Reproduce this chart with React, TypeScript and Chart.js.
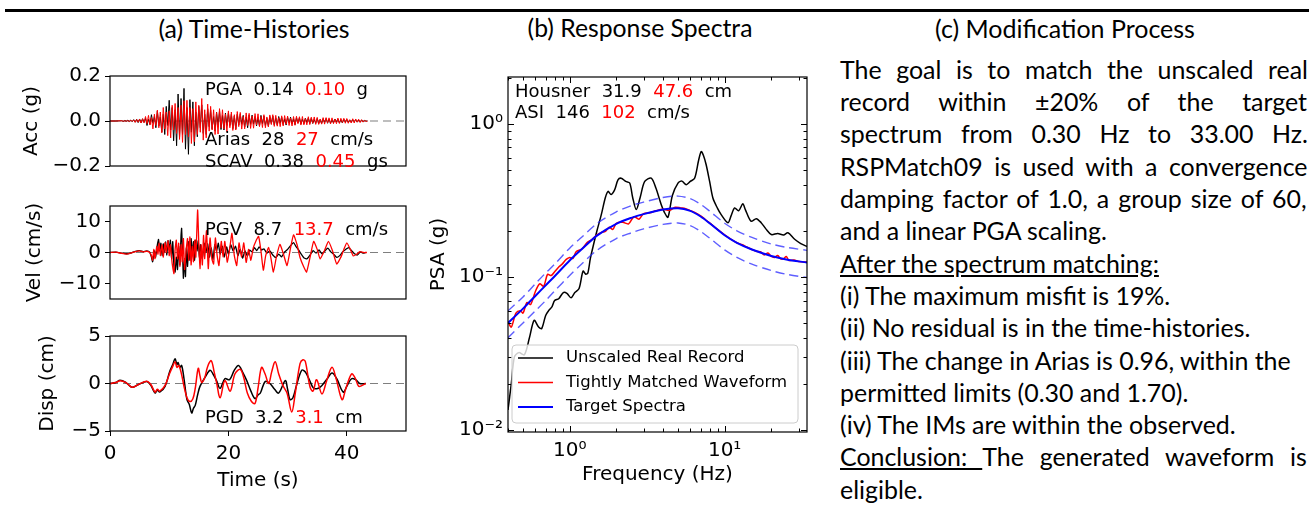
import React, { useEffect, useMemo, useRef } from 'react';
import { Chart, registerables } from 'chart.js';

Chart.register(...registerables);

// ---------------- Data: (a) time histories ----------------
const ACC_TIME = [0, 1,
  2, 2.25, 2.5, 2.75, 3, 3.25, 3.5, 3.75, 4, 4.25, 4.5, 4.75, 5, 5.25, 5.5, 5.75, 6, 6.25, 6.5, 6.75,
  7, 7.25, 7.5, 7.75, 8, 8.25, 8.5, 8.75, 9, 9.25, 9.5, 9.75, 10, 10.25, 10.5, 10.75, 11, 11.25, 11.5, 11.75,
  12, 12.25, 12.5, 12.75, 13, 13.25, 13.5, 13.75, 14, 14.25, 14.5, 14.75, 15, 15.25, 15.5, 15.75, 16, 16.25, 16.5, 16.75,
  17, 17.25, 17.5, 17.75, 18, 18.25, 18.5, 18.75, 19, 19.25, 19.5, 19.75, 20, 20.25, 20.5, 20.75, 21, 21.25, 21.5, 21.75,
  22, 22.25, 22.5, 22.75, 23, 23.25, 23.5, 23.75, 24, 24.25, 24.5, 24.75, 25, 25.25, 25.5, 25.75, 26, 26.25, 26.5, 26.75,
  27, 27.25, 27.5, 27.75, 28, 28.25, 28.5, 28.75, 29, 29.25, 29.5, 29.75, 30, 30.25, 30.5, 30.75, 31, 31.25, 31.5, 31.75,
  32, 32.25, 32.5, 32.75, 33, 33.25, 33.5, 33.75, 34, 34.25, 34.5, 34.75, 35, 35.25, 35.5, 35.75, 36, 36.25, 36.5, 36.75,
  37, 37.25, 37.5, 37.75, 38, 38.25, 38.5, 38.75, 39, 39.25, 39.5, 39.75, 40, 40.25, 40.5, 40.75, 41, 41.25, 41.5, 41.75,
  42, 42.25, 42.5, 42.75, 43, 43.25, 43.5];

const ACC_REAL = [0, 0,
  0.001, -0.002, 0.002, -0.001, 0.003, -0.002, 0.004, -0.003, 0.006, -0.005, 0.008, -0.007, 0.009, -0.008, 0.010, -0.006,
  0.012, -0.020, 0.008, -0.015, 0.028, -0.010, 0.020, -0.030, 0.045, -0.022, 0.018, -0.050, 0.030, -0.060, 0.065, -0.020,
  0.092, -0.040, 0.060, -0.088, 0.050, -0.110, 0.120, -0.070, 0.100, -0.060, 0.145, -0.125, 0.060, -0.148, 0.095, -0.050,
  0.085, -0.110, 0.040, -0.070, 0.065, -0.030, 0.072, -0.055, 0.030, -0.060, 0.055, -0.025, 0.048, -0.035, 0.020, -0.045,
  0.040, -0.020, 0.045, -0.038, 0.025, -0.040, 0.035, -0.020, 0.036, -0.020, 0.030, -0.034, 0.022, -0.035, 0.030, -0.018,
  0.030, -0.015, 0.025, -0.027, 0.018, -0.030, 0.026, -0.015, 0.026, -0.014, 0.020, -0.022, 0.015, -0.022, 0.025, -0.012,
  0.022, -0.020, 0.012, -0.023, 0.020, -0.012, 0.022, -0.018, 0.014, -0.018, 0.020, -0.010, 0.018, -0.016, 0.010, -0.018,
  0.016, -0.009, 0.017, -0.014, 0.010, -0.016, 0.014, -0.008, 0.014, -0.013, 0.008, -0.012, 0.013, -0.007, 0.013, -0.011,
  0.012, -0.011, 0.007, -0.010, 0.011, -0.012, 0.006, -0.011, 0.010, -0.006, 0.011, -0.010, 0.009, -0.010, 0.005, -0.008,
  0.009, -0.005, 0.009, -0.009, 0.006, -0.009, 0.008, -0.004, 0.007, -0.006, 0.004, -0.006, 0.006, -0.003, 0.006, -0.005,
  0.004, -0.004, 0.003, -0.002, 0.001, 0, 0];

const ACC_MATCH = [0, 0,
  0.001, -0.001, 0.001, -0.001, 0.002, -0.002, 0.003, -0.002, 0.005, -0.006, 0.007, -0.005, 0.008, -0.009, 0.010, -0.008,
  0.020, -0.012, 0.025, -0.018, 0.015, -0.035, 0.030, -0.020, 0.048, -0.030, 0.040, -0.052, 0.060, -0.035, 0.040, -0.065,
  0.045, -0.075, 0.070, -0.040, 0.078, -0.055, 0.060, -0.082, 0.070, -0.095, 0.090, -0.060, 0.092, -0.070, 0.060, -0.100,
  0.055, -0.092, 0.085, -0.060, 0.070, -0.050, 0.100, -0.085, 0.050, -0.075, 0.075, -0.045, 0.065, -0.040, 0.050, -0.060,
  0.038, -0.058, 0.055, -0.030, 0.050, -0.035, 0.030, -0.048, 0.045, -0.030, 0.040, -0.042, 0.028, -0.040, 0.042, -0.025,
  0.038, -0.036, 0.020, -0.035, 0.036, -0.020, 0.034, -0.033, 0.022, -0.032, 0.033, -0.018, 0.032, -0.025, 0.020, -0.029,
  0.028, -0.030, 0.018, -0.026, 0.027, -0.016, 0.028, -0.024, 0.025, -0.023, 0.015, -0.025, 0.023, -0.022, 0.024, -0.014,
  0.022, -0.020, 0.013, -0.022, 0.020, -0.019, 0.021, -0.012, 0.019, -0.018, 0.020, -0.017, 0.011, -0.017, 0.019, -0.016,
  0.017, -0.010, 0.018, -0.015, 0.016, -0.015, 0.009, -0.014, 0.015, -0.014, 0.015, -0.008, 0.014, -0.013, 0.014, -0.012,
  0.008, -0.012, 0.013, -0.011, 0.012, -0.007, 0.012, -0.010, 0.011, -0.010, 0.006, -0.009, 0.010, -0.009, 0.009, -0.005,
  0.008, -0.007, 0.006, -0.005, 0.003, -0.002, 0];

const VEL_REAL_T = [0, 1, 2, 2.8, 3.5, 4.3, 5.0, 5.6, 6.2, 6.7, 7.0, 7.2, 7.5, 7.7, 8.0, 8.2, 8.4, 8.6, 8.8, 9.0,
  9.2, 9.4, 9.6, 9.8, 10.0, 10.2, 10.4, 10.6, 10.8, 11.0, 11.2, 11.4, 11.6, 11.8, 12.0, 12.1, 12.3, 12.4, 12.6, 12.75,
  12.9, 13.1, 13.3, 13.5, 13.7, 13.9, 14.1, 14.3, 14.5, 14.7, 14.9, 15.1, 15.3, 15.6, 15.9, 16.2, 16.5, 16.8, 17.1, 17.4,
  17.7, 18.0, 18.3, 18.6, 19.0, 19.3, 19.7, 20.0, 20.4, 20.8, 21.2, 21.6, 22.0, 22.4, 22.8, 23.2, 23.6, 24.0, 24.4, 24.8,
  25.2, 25.6, 26.0, 26.5, 27.0, 27.5, 28.0, 28.5, 29.0, 29.5, 30.0, 30.5, 31.0, 31.4, 31.8, 32.3, 32.8, 33.3, 33.8, 34.3,
  34.8, 35.3, 35.8, 36.3, 36.8, 37.3, 37.8, 38.3, 38.8, 39.3, 39.8, 40.3, 40.8, 41.3, 41.8, 42.3, 42.8, 43.2];
const VEL_REAL = [0, 0.1, -0.2, -0.4, -0.2, 0.4, 0.6, 0.3, 0.5, 0.1, -1.5, -3.0, 0.5, -1.5, 2.5, 4.2, 0.5, 3.0, -1.0, 2.8,
  0.2, 3.4, -0.8, 3.8, 1.0, 4.0, -2.0, 3.5, -4.5, -6.3, -1.5, -5.5, 2.0, -4.0, 5.5, 7.8, -3.0, -8.3, -2.0, -7.8,
  1.5, -4.5, 3.5, -2.5, 4.5, -1.0, 3.5, -2.5, 4.0, 0.5, 3.8, -1.5, 2.5, -2.0, 3.0, 0.0, 2.8, -1.5, 1.5, -2.2,
  2.5, 0.5, 3.0, -0.5, 2.0, -1.5, 1.8, -0.5, 2.5, 0.5, 2.0, -1.0, 1.0, -1.8, 0.5, -1.2, 0.8, 0.2, 1.6, 0.6,
  1.8, 0.8, 1.2, -0.2, 0.5, -0.8, -1.6, -0.5, -1.4, 0.2, 1.0, 2.2, 3.2, 2.0, 1.0, -0.5, -1.8, -2.0, -0.8, 0.6,
  -0.2, 0.8, -0.4, 0.5, 1.4, 0.2, -0.6, -1.6, -1.0, 0.2, 1.0, 1.6, 0.6, -0.4, -0.8, 0.2, -0.2, 0.0];

const VEL_MATCH_T = [0, 1, 2, 2.8, 3.5, 4.3, 5.0, 5.6, 6.2, 6.7, 7.0, 7.2, 7.4, 7.6, 7.9, 8.1, 8.3, 8.5, 8.8, 9.0,
  9.3, 9.5, 9.8, 10.0, 10.2, 10.5, 10.8, 11.0, 11.2, 11.4, 11.6, 11.8, 12.0, 12.2, 12.4, 12.6, 12.9, 13.1, 13.3, 13.5,
  13.7, 13.9, 14.1, 14.3, 14.5, 14.8, 15.0, 15.2, 15.4, 15.6, 15.8, 16.0, 16.3, 16.6, 16.9, 17.2, 17.5, 17.8, 18.1, 18.4,
  18.8, 19.1, 19.4, 19.8, 20.2, 20.6, 21.0, 21.4, 21.8, 22.2, 22.6, 23.0, 23.4, 23.8, 24.2, 24.6, 25.1, 25.5, 25.9, 26.3,
  26.8, 27.2, 27.6, 28.1, 28.7, 29.3, 29.9, 30.5, 31.0, 31.6, 32.1, 32.7, 33.2, 33.8, 34.4, 35.0, 35.5, 36.2, 36.9, 37.6,
  38.3, 39.0, 39.5, 40.0, 40.6, 41.1, 41.7, 42.2, 42.8, 43.4];
const VEL_MATCH = [0, 0.1, -0.3, -0.5, -0.2, 0.3, 0.5, 0.2, 0.4, 0.0, -1.0, -2.5, 1.0, -2.0, 2.0, -0.5, 3.0, -1.0, 2.5, -1.5,
  3.2, 0.0, 3.8, -1.0, 2.5, -3.5, -6.8, 1.0, 4.0, -2.0, 3.0, -4.5, 2.5, -3.0, 4.5, -5.5, 1.5, 4.5, -2.5, 5.0,
  -4.0, 2.0, -3.0, 4.0, -1.5, 13.7, 3.0, -5.2, 2.5, -4.0, 5.5, -2.0, 7.0, -5.2, 4.7, -2.0, -3.7, 4.7, -1.0, -4.2,
  3.6, -1.5, 3.6, -3.1, 1.0, 6.2, -1.0, -4.2, 3.1, -1.5, 3.1, -3.2, 1.0, -2.5, 1.5, 3.5, 5.2, 0.5, -5.7, -1.0,
  1.6, -2.0, -6.3, -1.5, 2.6, -0.5, -4.2, 1.5, 5.7, 2.5, -1.6, -4.5, -6.3, -1.5, 3.6, 1.0, -2.1, 0.5, 3.6, 0.5,
  -3.7, -1.5, 1.0, 3.1, 1.0, -1.1, -0.5, 0.3, 0.0, 0.0];

const DISP_REAL_T = [0, 1, 1.7, 2.7, 3.7, 4.8, 6.2, 6.9, 7.6, 8.0, 8.4, 9.3, 10.1, 10.6, 11.0, 11.3, 11.5, 11.8, 12.1, 12.5,
  13.0, 13.4, 13.8, 14.1, 14.4, 14.8, 15.2, 16.1, 16.9, 17.4, 18.0, 18.6, 19.4, 20.2, 21.0, 21.7, 22.4, 23.1, 23.8, 24.5,
  25.0, 25.4, 26.2, 27.0, 27.8, 28.5, 29.6, 30.0, 30.4, 30.9, 31.5, 32.4, 33.0, 33.6, 34.4, 35.2, 35.8, 36.7, 37.5, 38.3,
  39.4, 40.0, 40.8, 41.5, 42.2, 43.2];
const DISP_REAL = [0, 0.1, 0.35, 0.1, -0.4, -0.1, 0.2, -0.2, -1.0, -0.7, -0.9, -0.3, 1.3, 2.0, 2.6, 2.0, 2.2, 1.7, 1.9, 0.5,
  -1.7, -2.2, -3.1, -2.6, -2.3, -1.2, -0.3, 0.7, 1.4, 1.0, 0.3, -0.5, 0.5, 0.4, 1.4, 1.9, 1.2, 0.3, -0.8, -1.6,
  -1.2, -1.0, 0.2, 0.0, -0.6, -1.0, 0.3, -0.6, -1.7, -1.5, -0.2, 1.4, 1.2, 0.5, -0.5, -0.5, -0.2, 0.5, 1.1, 0.5,
  -0.9, -0.3, 0.5, 0.4, 0.0, 0.0];

const DISP_MATCH_T = [0, 1, 1.7, 2.7, 3.7, 4.8, 6.2, 6.9, 7.6, 8.0, 8.4, 9.3, 10.1, 10.6, 11.0, 11.3, 11.6, 12.0, 12.5, 13.0,
  13.5, 14.0, 14.4, 14.9, 15.2, 15.5, 16.0, 16.5, 17.1, 17.6, 18.0, 18.6, 19.4, 20.3, 21.1, 22.0, 22.6, 23.2, 23.9, 24.5,
  25.0, 25.6, 26.2, 26.8, 27.3, 27.9, 28.5, 29.2, 29.9, 30.7, 31.3, 32.1, 32.6, 33.0, 33.8, 34.3, 34.9, 35.8, 36.6, 37.5,
  38.2, 39.2, 39.8, 40.8, 41.4, 42.0, 42.6, 43.2];
const DISP_MATCH = [0, 0.1, 0.3, 0.1, -0.4, -0.1, 0.25, -0.1, -0.9, -0.6, -0.8, -0.2, 1.1, 1.8, 2.3, 1.7, 1.9, 1.2, -0.3, -1.5,
  -1.9, -1.6, -0.5, 1.6, 0.8, 0.1, 0.6, 1.8, 2.4, 1.2, 0.1, -1.5, 0.3, -0.8, 1.0, 1.5, 0.6, -1.0, -1.9, -2.1,
  -0.5, 1.7, 1.0, 0.0, 1.2, 2.3, 1.0, -0.2, -1.0, -3.0, -1.0, 2.1, 2.5, 2.3, -0.4, -0.8, 0.4, -1.1, 0.3, 1.7,
  0.5, -1.7, -0.6, 1.0, 0.6, -0.3, -0.2, 0.0];

const ZERO_T = [0, 50];
const ZERO_V = [0, 0];

const TIME_TICKS = [0, 20, 40];
const ACC_TICKS = [-0.2, 0, 0.2];
const VEL_TICKS = [-10, 0, 10];
const DISP_TICKS = [-5, 0, 5];

// ---------------- Data: (b) response spectra ----------------
const TARGET_F = [0.4, 0.5, 0.6, 0.7, 0.8, 1.0, 1.2, 1.5, 2.0, 2.5, 3.0, 4.0, 5.0, 6.0, 7.0, 8.0, 10, 12, 15, 20, 25, 34];
const TARGET_PSA = [0.050, 0.062, 0.075, 0.088, 0.101, 0.128, 0.152, 0.186, 0.222, 0.243, 0.257, 0.275, 0.281, 0.270, 0.248, 0.224, 0.187, 0.167, 0.151, 0.137, 0.130, 0.124];
const UPPER_PSA = [0.060, 0.074, 0.090, 0.106, 0.121, 0.154, 0.182, 0.223, 0.266, 0.292, 0.308, 0.330, 0.337, 0.324, 0.298, 0.269, 0.224, 0.200, 0.181, 0.164, 0.156, 0.149];
const LOWER_PSA = [0.040, 0.050, 0.060, 0.070, 0.081, 0.102, 0.122, 0.149, 0.178, 0.194, 0.206, 0.220, 0.225, 0.216, 0.198, 0.179, 0.150, 0.134, 0.121, 0.110, 0.104, 0.099];

const MATCH_F = [0.40, 0.42, 0.45, 0.48, 0.50, 0.53, 0.56, 0.60, 0.64, 0.68, 0.72, 0.76, 0.80, 0.85, 0.90, 0.95, 1.0, 1.05, 1.1, 1.2,
  1.3, 1.4, 1.5, 1.6, 1.7, 1.8, 1.9, 2.0, 2.2, 2.4, 2.6, 2.8, 3.0, 3.3, 3.6, 4.0, 4.4, 4.8, 5.2, 5.6,
  6.0, 6.5, 7.0, 7.5, 8.0, 9.0, 10, 11, 12, 13, 14, 15, 16, 17, 18, 19, 20, 21, 22, 23, 24, 25, 26, 28, 30, 34];
const MATCH_PSA = [0.051, 0.047, 0.058, 0.060, 0.058, 0.068, 0.066, 0.080, 0.090, 0.087, 0.104, 0.102, 0.108, 0.116, 0.122, 0.130, 0.134, 0.132, 0.146, 0.152,
  0.168, 0.176, 0.188, 0.195, 0.198, 0.211, 0.204, 0.224, 0.227, 0.222, 0.247, 0.238, 0.259, 0.262, 0.270, 0.276, 0.272, 0.285, 0.282, 0.279,
  0.271, 0.262, 0.250, 0.237, 0.225, 0.204, 0.188, 0.176, 0.167, 0.162, 0.156, 0.151, 0.147, 0.146, 0.139, 0.143, 0.136, 0.134, 0.138, 0.131, 0.131, 0.136, 0.128, 0.129, 0.126, 0.125];

const REAL_F = [0.40, 0.42, 0.44, 0.47, 0.51, 0.55, 0.59, 0.63, 0.66, 0.70, 0.73, 0.77, 0.80, 0.85, 0.91, 0.96, 1.02, 1.08, 1.15, 1.22,
  1.27, 1.31, 1.36, 1.41, 1.50, 1.60, 1.70, 1.77, 1.85, 1.95, 2.05, 2.15, 2.30, 2.44, 2.55, 2.69, 2.85, 3.05, 3.36, 3.6,
  3.9, 4.1, 4.31, 4.6, 5.0, 5.3, 5.65, 6.0, 6.4, 6.8, 7.06, 7.3, 7.6, 8.0, 8.4, 9.0, 9.5, 10.5, 11.0, 11.6,
  12.3, 13.1, 13.6, 14.8, 16, 17.2, 18.5, 20, 22, 24, 25.6, 28.3, 31, 34];
const REAL_PSA = [0.0135, 0.020, 0.030, 0.032, 0.031, 0.040, 0.052, 0.047, 0.046, 0.056, 0.060, 0.064, 0.070, 0.072, 0.079, 0.078, 0.073, 0.079, 0.084, 0.109,
  0.104, 0.106, 0.132, 0.155, 0.200, 0.255, 0.330, 0.362, 0.345, 0.370, 0.430, 0.441, 0.420, 0.410, 0.330, 0.275, 0.330, 0.420, 0.441, 0.380,
  0.296, 0.262, 0.245, 0.340, 0.410, 0.422, 0.400, 0.420, 0.440, 0.580, 0.658, 0.620, 0.540, 0.420, 0.327, 0.280, 0.255, 0.226, 0.250, 0.282,
  0.270, 0.300, 0.275, 0.231, 0.240, 0.226, 0.205, 0.189, 0.192, 0.188, 0.194, 0.176, 0.165, 0.158];

const FREQ_TICKS = [0.4, 0.5, 0.6, 0.7, 0.8, 0.9, 1, 2, 3, 4, 5, 6, 7, 8, 9, 10, 20, 30];
const PSA_TICKS = [0.01, 0.02, 0.03, 0.04, 0.05, 0.06, 0.07, 0.08, 0.09, 0.1, 0.2, 0.3, 0.4, 0.5, 0.6, 0.7, 0.8, 0.9, 1, 2];

// ---------------- Text ----------------
const RED = '#ff0000';
const BLK = '#000000';
const ACC_NOTES = [
  { dx: 95, dy: 18.5, runs: [{ t: 'PGA', c: BLK }, { t: '0.14', c: BLK }, { t: '0.10', c: RED }, { t: 'g', c: BLK }] },
  { dx: 95, dy: 69, runs: [{ t: 'Arias', c: BLK }, { t: '28', c: BLK }, { t: '27', c: RED }, { t: 'cm/s', c: BLK }] },
  { dx: 95, dy: 91, runs: [{ t: 'SCAV', c: BLK }, { t: '0.38', c: BLK }, { t: '0.45', c: RED }, { t: 'gs', c: BLK }] },
];
const VEL_NOTES = [
  { dx: 95, dy: 28.5, runs: [{ t: 'PGV', c: BLK }, { t: '8.7', c: BLK }, { t: '13.7', c: RED }, { t: 'cm/s', c: BLK }] },
];
const DISP_NOTES = [
  { dx: 95, dy: 86.5, runs: [{ t: 'PGD', c: BLK }, { t: '3.2', c: BLK }, { t: '3.1', c: RED }, { t: 'cm', c: BLK }] },
];
const SPEC_NOTES = [
  { dx: 7, dy: 20, runs: [{ t: 'Housner', c: BLK }, { t: '31.9', c: BLK }, { t: '47.6', c: RED }, { t: 'cm', c: BLK }] },
  { dx: 7, dy: 41, runs: [{ t: 'ASI', c: BLK }, { t: '146', c: BLK }, { t: '102', c: RED }, { t: 'cm/s', c: BLK }] },
];

const TITLES = ['(a) Time-Histories', '(b) Response Spectra', '(c) Modification Process'];

const C_LINES = [
  { parts: [{ t: 'The goal is to match the unscaled real' }], justify: true },
  { parts: [{ t: 'record within \u00b120% of the target' }], justify: true },
  { parts: [{ t: 'spectrum from 0.30 Hz to 33.00 Hz.' }], justify: true },
  { parts: [{ t: 'RSPMatch09 is used with a convergence' }], justify: true },
  { parts: [{ t: 'damping factor of 1.0, a group size of 60,' }], justify: true },
  { parts: [{ t: 'and a linear PGA scaling.' }], justify: false },
  { parts: [{ t: 'After the spectrum matching:', u: true }], justify: false },
  { parts: [{ t: '(i) The maximum misfit is 19%.' }], justify: false },
  { parts: [{ t: '(ii) No residual is in the time-histories.' }], justify: false },
  { parts: [{ t: '(iii) The change in Arias is 0.96, within the' }], justify: false },
  { parts: [{ t: 'permitted limits (0.30 and 1.70).' }], justify: false },
  { parts: [{ t: '(iv) The IMs are within the observed.' }], justify: false },
  { parts: [{ t: 'Conclusion: ', u: true }, { t: 'The generated waveform is' }], justify: true },
  { parts: [{ t: 'eligible.' }], justify: false },
];

// ---------------- Helpers ----------------
const MPL = '"DejaVu Sans"';
const BODY = 'Lato';
const FS = 20;

function pts(xs: number[], ys: number[]) {
  return xs.map((x, i) => ({ x, y: ys[i] }));
}

function measure(text: string, family: string, size: number) {
  const c = document.createElement('canvas').getContext('2d')!;
  c.font = `${size}px ${family}`;
  return c.measureText(text).width;
}

const framePlugin = {
  id: 'frame',
  afterDatasetsDraw(chart: any) {
    const { ctx, chartArea: a } = chart;
    ctx.save();
    ctx.strokeStyle = '#000';
    ctx.lineWidth = 1.2;
    ctx.setLineDash([]);
    ctx.strokeRect(a.left, a.top, a.right - a.left, a.bottom - a.top);
    ctx.restore();
  },
};

function notesPlugin(notes: any[], size: number) {
  return {
    id: 'notes',
    afterDatasetsDraw(chart: any) {
      const { ctx, chartArea: a } = chart;
      ctx.save();
      ctx.font = `${size}px ${MPL}`;
      ctx.textBaseline = 'alphabetic';
      ctx.textAlign = 'left';
      notes.forEach((n) => {
        let x = a.left + n.dx;
        const y = a.top + n.dy;
        n.runs.forEach((r: any, i: number) => {
          const s = i === 0 ? r.t : '  ' + r.t;
          ctx.fillStyle = r.c;
          ctx.fillText(s, x, y);
          x += ctx.measureText(s).width;
        });
      });
      ctx.restore();
    },
  };
}

const isPow10 = (v: number) => Math.abs(Math.log10(v) - Math.round(Math.log10(v))) < 1e-6;

const logTicksPlugin = {
  id: 'logTicks',
  afterDatasetsDraw(chart: any) {
    const { ctx, chartArea: a, scales } = chart;
    ctx.save();
    ctx.strokeStyle = '#000';
    ctx.lineWidth = 1;
    ctx.setLineDash([]);
    const line = (x1: number, y1: number, x2: number, y2: number) => {
      ctx.beginPath();
      ctx.moveTo(x1, y1);
      ctx.lineTo(x2, y2);
      ctx.stroke();
    };
    scales.x.ticks.forEach((t: any) => {
      const p = Math.round(scales.x.getPixelForValue(t.value)) + 0.5;
      const L = isPow10(t.value) ? 6 : 3.5;
      line(p, a.bottom, p, a.bottom - L);
      line(p, a.top, p, a.top + L);
    });
    scales.y.ticks.forEach((t: any) => {
      const p = Math.round(scales.y.getPixelForValue(t.value)) + 0.5;
      const L = isPow10(t.value) ? 6 : 3.5;
      line(a.left, p, a.left + L, p);
      line(a.right, p, a.right - L, p);
    });
    ctx.restore();
  },
};

function legendPlugin(order: number[]) {
  return {
    id: 'specLegend',
    afterDatasetsDraw(chart: any) {
      const { ctx, chartArea: a } = chart;
      const w = 286, h = 78;
      const x0 = a.left + 4, y0 = a.bottom - 9 - h;
      const r = 4;
      ctx.save();
      ctx.beginPath();
      ctx.moveTo(x0 + r, y0);
      ctx.lineTo(x0 + w - r, y0);
      ctx.quadraticCurveTo(x0 + w, y0, x0 + w, y0 + r);
      ctx.lineTo(x0 + w, y0 + h - r);
      ctx.quadraticCurveTo(x0 + w, y0 + h, x0 + w - r, y0 + h);
      ctx.lineTo(x0 + r, y0 + h);
      ctx.quadraticCurveTo(x0, y0 + h, x0, y0 + h - r);
      ctx.lineTo(x0, y0 + r);
      ctx.quadraticCurveTo(x0, y0, x0 + r, y0);
      ctx.closePath();
      ctx.fillStyle = 'rgba(255,255,255,0.8)';
      ctx.fill();
      ctx.strokeStyle = '#cccccc';
      ctx.lineWidth = 1;
      ctx.stroke();
      ctx.font = `16.5px ${MPL}`;
      ctx.textBaseline = 'middle';
      ctx.textAlign = 'left';
      order.forEach((di, i) => {
        const ds = chart.data.datasets[di];
        const cy = y0 + 13 + i * 24.5;
        ctx.strokeStyle = ds.borderColor;
        ctx.lineWidth = ds.borderWidth;
        ctx.setLineDash([]);
        ctx.beginPath();
        ctx.moveTo(x0 + 6, cy);
        ctx.lineTo(x0 + 41, cy);
        ctx.stroke();
        ctx.fillStyle = '#000';
        ctx.fillText(ds.label, x0 + 54, cy);
      });
      ctx.restore();
    },
  };
}

const SUP: Record<string, string> = { '-': '\u207b', '0': '\u2070', '1': '\u00b9', '2': '\u00b2', '3': '\u00b3' };
const powLabel = (v: number) => {
  if (!isPow10(v)) return '';
  const e = String(Math.round(Math.log10(v)));
  return '10' + e.split('').map((c) => SUP[c] || c).join('');
};

const fmt = (dec: number) => (v: number) => (v < 0 ? '\u2212' : '') + Math.abs(v).toFixed(dec);

function thConfig(o: any) {
  return {
    type: 'line',
    data: {
      datasets: [
        { label: 'Tightly Matched Waveform', data: o.red, borderColor: RED, borderWidth: o.lw, pointRadius: 0, tension: o.tension, fill: false },
        { label: 'Unscaled Real Record', data: o.black, borderColor: BLK, borderWidth: o.lw, pointRadius: 0, tension: o.tension, fill: false },
        { label: 'zero', data: pts(ZERO_T, ZERO_V), borderColor: '#7f7f7f', borderWidth: 1.2, borderDash: [8, 5], pointRadius: 0, fill: false },
      ],
    },
    options: {
      responsive: false,
      animation: false,
      devicePixelRatio: 1,
      events: [],
      layout: { padding: { left: 0, right: 14, top: 15, bottom: o.padBottom } },
      plugins: { legend: { display: false }, tooltip: { enabled: false } },
      scales: {
        x: {
          type: 'linear',
          min: 0,
          max: 50,
          display: o.showX,
          afterBuildTicks: (s: any) => { s.ticks = TIME_TICKS.map((v) => ({ value: v })); },
          afterFit: (s: any) => { if (o.showX) s.height = o.xHeight; },
          grid: { display: true, drawOnChartArea: false, drawTicks: true, tickLength: 5, color: '#000', tickColor: '#000', lineWidth: 1 },
          border: { display: false },
          ticks: { color: '#000', font: { family: 'DejaVu Sans', size: FS }, padding: 6, maxRotation: 0, autoSkip: false, callback: fmt(0) },
          title: { display: o.showX, text: 'Time (s)', color: '#000', font: { family: 'DejaVu Sans', size: FS }, padding: { top: 0, bottom: 16 } },
        },
        y: {
          type: 'linear',
          min: o.min,
          max: o.max,
          afterBuildTicks: (s: any) => { s.ticks = o.ticks.map((v: number) => ({ value: v })); },
          afterFit: (s: any) => { s.width = 110; },
          grid: { display: true, drawOnChartArea: false, drawTicks: true, tickLength: 5, color: '#000', tickColor: '#000', lineWidth: 1 },
          border: { display: false },
          ticks: { color: '#000', font: { family: 'DejaVu Sans', size: FS }, padding: 4, autoSkip: false, callback: fmt(o.dec) },
          title: { display: true, text: o.ylabel, color: '#000', font: { family: 'DejaVu Sans', size: FS }, padding: { top: o.titlePad, bottom: 0 } },
        },
      },
    },
    plugins: [framePlugin, notesPlugin(o.notes, 18)],
  };
}

function specConfig() {
  return {
    type: 'line',
    data: {
      datasets: [
        { label: 'Target Spectra', data: pts(TARGET_F, TARGET_PSA), borderColor: '#0000ff', borderWidth: 2, pointRadius: 0, tension: 0.3, fill: false },
        { label: '+20%', data: pts(TARGET_F, UPPER_PSA), borderColor: 'rgba(40,40,255,0.75)', borderWidth: 1.4, borderDash: [9, 5], pointRadius: 0, tension: 0.3, fill: false },
        { label: '-20%', data: pts(TARGET_F, LOWER_PSA), borderColor: 'rgba(40,40,255,0.75)', borderWidth: 1.4, borderDash: [9, 5], pointRadius: 0, tension: 0.3, fill: false },
        { label: 'Tightly Matched Waveform', data: pts(MATCH_F, MATCH_PSA), borderColor: RED, borderWidth: 1.5, pointRadius: 0, tension: 0.3, fill: false },
        { label: 'Unscaled Real Record', data: pts(REAL_F, REAL_PSA), borderColor: BLK, borderWidth: 1.5, pointRadius: 0, tension: 0.3, fill: false },
      ],
    },
    options: {
      responsive: false,
      animation: false,
      devicePixelRatio: 1,
      events: [],
      layout: { padding: { left: 0, right: 13, top: 15, bottom: 0 } },
      plugins: { legend: { display: false }, tooltip: { enabled: false } },
      scales: {
        x: {
          type: 'logarithmic',
          min: 0.4,
          max: 34,
          afterBuildTicks: (s: any) => { s.ticks = FREQ_TICKS.map((v) => ({ value: v })); },
          afterFit: (s: any) => { s.height = 77; },
          grid: { display: false, drawTicks: false },
          border: { display: false },
          ticks: { color: '#000', font: { family: 'DejaVu Sans', size: FS }, padding: 7, maxRotation: 0, autoSkip: false, callback: powLabel },
          title: { display: true, text: 'Frequency (Hz)', color: '#000', font: { family: 'DejaVu Sans', size: FS }, padding: { top: 0, bottom: 22 } },
        },
        y: {
          type: 'logarithmic',
          min: 0.0097,
          max: 2.02,
          afterBuildTicks: (s: any) => { s.ticks = PSA_TICKS.map((v) => ({ value: v })); },
          afterFit: (s: any) => { s.width = 88; },
          grid: { display: false, drawTicks: false },
          border: { display: false },
          ticks: { color: '#000', font: { family: 'DejaVu Sans', size: FS }, padding: 5, autoSkip: false, callback: powLabel },
          title: { display: true, text: 'PSA (g)', color: '#000', font: { family: 'DejaVu Sans', size: FS }, padding: { top: 7, bottom: 0 } },
        },
      },
    },
    plugins: [framePlugin, logTicksPlugin, notesPlugin(SPEC_NOTES, 18), legendPlugin([4, 3, 0])],
  };
}

function ChartBox({ make, left, top, width, height }: any) {
  const ref = useRef<HTMLCanvasElement>(null);
  useEffect(() => {
    const chart = new Chart(ref.current as HTMLCanvasElement, make() as any);
    return () => chart.destroy();
  }, []);
  return (
    <canvas
      ref={ref}
      width={width}
      height={height}
      style={{ position: 'absolute', left, top, width, height, display: 'block' }}
    />
  );
}

export default function App() {
  const sizes = useMemo(() => {
    const body = (100 * 453) / measure('(iii) The change in Arias is 0.96, within the', BODY, 100);
    const ta = (100 * 192) / measure(TITLES[0], BODY, 100);
    const tb = (100 * 225) / measure(TITLES[1], BODY, 100);
    const tc = (100 * 260) / measure(TITLES[2], BODY, 100);
    return { body, ta, tb, tc };
  }, []);

  const lineStyles = useMemo(() => {
    return C_LINES.map((ln) => {
      const full = ln.parts.map((p) => p.t).join('');
      if (!ln.justify) return 0;
      const w = measure(full, BODY, sizes.body);
      const spaces = (full.match(/ /g) || []).length;
      return spaces ? (468 - w) / spaces : 0;
    });
  }, [sizes]);

  const titleCenters = [254, 640, 1065];
  const titleSizes = [sizes.ta, sizes.tb, sizes.tc];
  const LH = 32.3;

  return (
    <div style={{ position: 'absolute', left: 0, top: 0, width: 1309, height: 509, background: '#fff', overflow: 'hidden' }}>
      <div style={{ position: 'absolute', left: 5, top: 9, width: 1304, height: 2.5, background: '#000' }} />
      {TITLES.map((t, i) => (
        <div
          key={t}
          style={{
            position: 'absolute', left: titleCenters[i] - 200, top: 13, width: 400, height: 30,
            lineHeight: '30px', textAlign: 'center', fontFamily: BODY, fontSize: titleSizes[i], color: '#000', whiteSpace: 'nowrap',
          }}
        >
          {t}
        </div>
      ))}

      <ChartBox
        left={0} top={60} width={420} height={122}
        make={() => thConfig({
          red: pts(ACC_TIME, ACC_MATCH), black: pts(ACC_TIME, ACC_REAL), lw: 1, tension: 0,
          min: -0.2, max: 0.2, ticks: ACC_TICKS, dec: 1, ylabel: 'Acc (g)', titlePad: 19.7,
          showX: false, padBottom: 12, notes: ACC_NOTES,
        })}
      />
      <ChartBox
        left={0} top={190} width={420} height={125}
        make={() => thConfig({
          red: pts(VEL_MATCH_T, VEL_MATCH), black: pts(VEL_REAL_T, VEL_REAL), lw: 1.3, tension: 0.15,
          min: -15, max: 15, ticks: VEL_TICKS, dec: 0, ylabel: 'Vel (cm/s)', titlePad: 23,
          showX: false, padBottom: 15, notes: VEL_NOTES,
        })}
      />
      <ChartBox
        left={0} top={320} width={420} height={189}
        make={() => thConfig({
          red: pts(DISP_MATCH_T, DISP_MATCH), black: pts(DISP_REAL_T, DISP_REAL), lw: 1.5, tension: 0.35,
          min: -5, max: 5, ticks: DISP_TICKS, dec: 0, ylabel: 'Disp (cm)', titlePad: 35.5,
          showX: true, xHeight: 78, padBottom: 0, notes: DISP_NOTES,
        })}
      />
      <ChartBox left={420} top={60} width={400} height={449} make={specConfig} />

      <div style={{ position: 'absolute', left: 840, top: 69 - LH / 2, width: 468, fontFamily: BODY, fontSize: sizes.body, color: '#000' }}>
        {C_LINES.map((ln, i) => (
          <div key={i} style={{ height: LH, lineHeight: `${LH}px`, whiteSpace: 'pre', wordSpacing: lineStyles[i] }}>
            {ln.parts.map((p: any, j: number) => (
              <span key={j} style={p.u ? { textDecoration: 'underline' } : undefined}>{p.t}</span>
            ))}
          </div>
        ))}
      </div>
    </div>
  );
}
